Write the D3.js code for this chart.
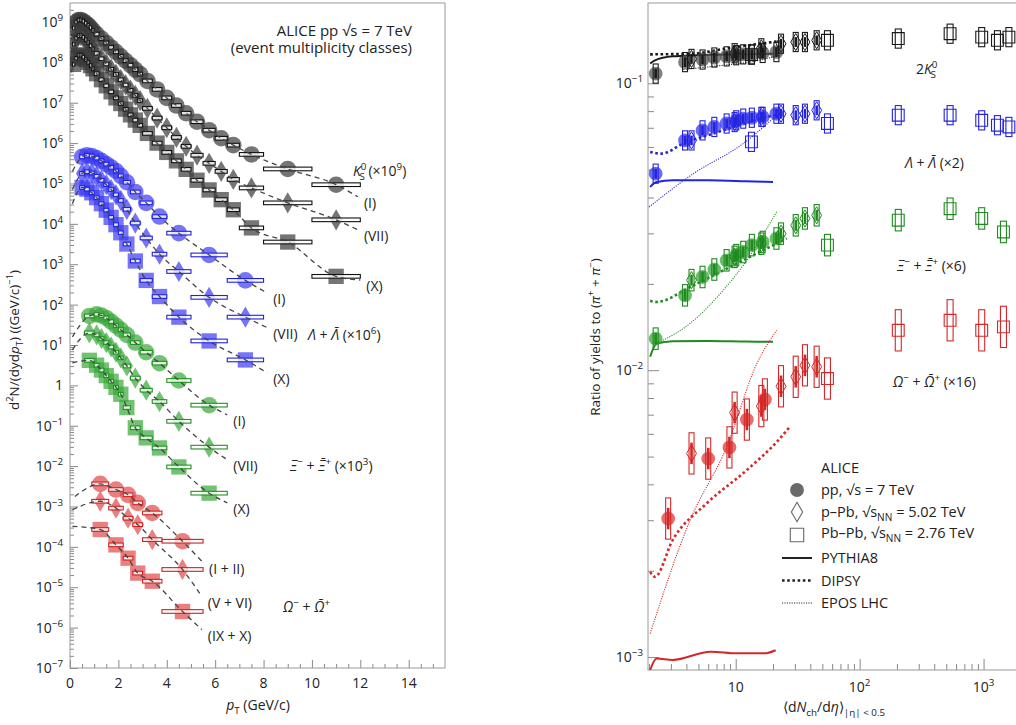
<!DOCTYPE html>
<html>
<head>
<meta charset="utf-8">
<script src="https://cdn.jsdelivr.net/npm/d3@7"></script>
<style>
  body { margin: 0; background: #fff; }
  text { font-family: "Open Sans", sans-serif; fill: #222; }
</style>
</head>
<body>
<svg id="chart" width="1016" height="725"></svg>
<script>
// ---------- left panel: pT spectra (yields stored as log10, already scaled) ----------
var k0Edges = [0.1,0.2,0.3,0.4,0.5,0.6,0.7,0.8,0.9,1.0,1.2,1.4,1.6,1.8,2.0,2.2,2.4,2.6,2.8,3.0,3.4,3.8,4.2,4.6,5.0,5.5,6.0,6.5,7.0,8.0,10.0,12.0];
var k0I   = [8.85,9.00,9.05,9.05,9.02,8.97,8.92,8.86,8.79,8.70,8.59,8.48,8.37,8.26,8.15,8.04,7.93,7.82,7.71,7.54,7.33,7.12,6.93,6.74,6.53,6.32,6.12,5.95,5.72,5.36,4.97];
var k0VII = [8.45,8.60,8.66,8.66,8.62,8.56,8.49,8.41,8.33,8.22,8.09,7.96,7.83,7.70,7.57,7.44,7.31,7.18,7.05,6.86,6.62,6.38,6.14,5.92,5.70,5.50,5.30,5.10,4.89,4.52,4.10];
var k0X   = [7.95,8.10,8.18,8.18,8.13,8.07,8.00,7.92,7.84,7.72,7.57,7.42,7.27,7.12,6.98,6.84,6.70,6.57,6.44,6.24,6.00,5.77,5.56,5.35,5.08,4.84,4.60,4.35,3.90,3.55,2.70];
var k0FitStart = [[0.05, 8.65], [0.05, 8.25], [0.05, 7.75]];
var k0FitEnd   = [[11.9, 4.67], [11.9, 3.85], [12.0, 2.61]];

var lamEdges = [0.4,0.6,0.8,1.0,1.2,1.4,1.6,1.8,2.0,2.2,2.5,2.9,3.4,4.0,5.0,6.5,8.0];
var lamI   = [5.66,5.70,5.68,5.63,5.56,5.48,5.40,5.31,5.19,5.03,4.79,4.52,4.18,3.77,3.23,2.60];
var lamVII = [5.25,5.29,5.26,5.18,5.08,4.97,4.85,4.72,4.58,4.36,4.02,3.65,3.25,2.82,2.18,1.69];
var lamX   = [4.90,4.86,4.77,4.65,4.50,4.34,4.16,3.98,3.78,3.50,3.08,2.60,2.20,1.69,1.10,0.63];
var lamFitStart = [[0.1, 5.30], [0.1, 4.85], [0.1, 4.50]];
var lamFitEnd   = [[8.15, 2.29], [8.15, 1.43], [8.15, 0.31]];

var xiEdges = [0.6,1.0,1.2,1.4,1.6,1.8,2.0,2.2,2.5,2.9,3.4,4.0,5.0,6.5];
var xiI   = [1.72,1.76,1.73,1.67,1.58,1.48,1.38,1.25,1.06,0.82,0.55,0.12,-0.49];
var xiVII = [1.30,1.25,1.16,1.06,0.95,0.82,0.68,0.48,0.18,-0.12,-0.40,-0.89,-1.53];
var xiX   = [0.62,0.50,0.38,0.24,0.10,-0.05,-0.22,-0.55,-1.05,-1.30,-1.55,-2.02,-2.67];
var xiFitStart = [[0.1, 1.20], [0.1, 0.88], [0.1, 0.56]];
var xiFitEnd   = [[6.5, -0.73], [6.5, -1.84], [6.5, -2.91]];

var omEdges = [0.9,1.6,2.2,2.6,3.0,3.8,5.5];
var omI   = [-2.44,-2.58,-2.71,-2.91,-3.16,-3.86];
var omVII = [-2.87,-3.04,-3.29,-3.45,-3.82,-4.56];
var omX   = [-3.57,-3.95,-4.28,-4.65,-4.85,-5.60];
var omFitStart = [[0.2, -2.75], [0.1, -3.08], [0.1, -3.49]];
var omFitEnd   = [[5.5, -4.39], [5.45, -5.23], [5.45, -6.05]];

var specSys = 0.11;   // relative systematic (box half height)

// ---------- right panel: ratios to pions (log10) vs <dNch/deta> ----------
var ppN   = [2.26,3.90,5.40,6.72,8.45,10.1,11.5,13.5,16.5,21.3];
var ppNOm = [2.85,6.0,8.9,12.3,17.2];
var ppbN  = [4.4,9.8,16.1,23.2,30.5,36.2,45];
var pbN7  = [13.4,55,205,537,966,1294,1601];
var pbN5  = [55,205,537,966,1447];

var k0PP   = [-0.966,-0.926,-0.917,-0.910,-0.906,-0.902,-0.899,-0.899,-0.894,-0.891];
var k0PPb  = [-0.915,-0.895,-0.878,-0.862,-0.856,-0.856,-0.850];
var k0PbPb = [-0.900,-0.850,-0.844,-0.827,-0.839,-0.850,-0.839];
var lamPP   = [-1.315,-1.199,-1.164,-1.152,-1.140,-1.129,-1.123,-1.120,-1.117,-1.106];
var lamPPb  = [-1.199,-1.135,-1.117,-1.106,-1.111,-1.106,-1.094];
var lamPbPb = [-1.204,-1.140,-1.111,-1.111,-1.129,-1.146,-1.152];
var xiPP   = [-1.890,-1.739,-1.675,-1.649,-1.617,-1.599,-1.588,-1.564,-1.553,-1.541];
var xiPPb  = [-1.686,-1.605,-1.559,-1.524,-1.495,-1.471,-1.460];
var xiPbPb = [-1.564,-1.477,-1.437,-1.471,-1.518];
var omPP   = [-2.517,-2.308,-2.269,-2.172,-2.102];
var omPPb  = [-2.290,-2.148,-2.125,-2.056,-2.023,-1.983,-1.988];
var omPbPb = [-2.029,-1.861,-1.826,-1.861,-1.849];

// models: PYTHIA8, DIPSY, EPOS LHC
var k0PyN = [2.04,2.23,3.1,5,10,20],           k0PyLg = [-0.931,-0.920,-0.906,-0.902,-0.899,-0.897];
var k0DiN = [2.04,4.4,8,14,22.7],              k0DiLg = [-0.899,-0.897,-0.880,-0.865,-0.853];
var k0EpN = [3.78,7.94,13,22.7],               k0EpLg = [-0.952,-0.937,-0.926,-0.902];
var lamPyN = [2.04,2.3,3.1,6,12,20],           lamPyLg = [-1.361,-1.344,-1.338,-1.338,-1.341,-1.344];
var lamDiN = [2.04,2.5,3.78,7.94,14,22.7],     lamDiLg = [-1.239,-1.245,-1.210,-1.164,-1.130,-1.106];
var lamEpN = [2.0,4.55,11.5,21.4],             lamEpLg = [-1.431,-1.315,-1.210,-1.111];
var xiPyN = [2.04,2.3,3.1,6,12,20],            xiPyLg = [-1.953,-1.907,-1.899,-1.898,-1.900,-1.901];
var xiDiN = [2.04,2.3,4.28,7.94,13.0,25.8],    xiDiLg = [-1.758,-1.762,-1.710,-1.652,-1.605,-1.541];
var xiEpN = [2.3,4.28,7.94,12.3,21.4],         xiEpLg = [-1.907,-1.837,-1.721,-1.617,-1.448];
var omPyN = [2.04,2.3,3.1,6.3,10.2,17,21],     omPyLg = [-3.045,-3.005,-3.010,-2.981,-2.987,-2.987,-2.976];
var omDiN = [2.04,2.23,3.1,5.84,12.3,22.1,27.4], omDiLg = [-2.703,-2.720,-2.592,-2.464,-2.348,-2.244,-2.197];
var omEpN = [2.04,4.28,8.46,14.8,21.4],        omEpLg = [-2.918,-2.523,-2.267,-1.977,-1.861];

var ratioSys = [0.08, 0.08, 0.09, 0.18];

// ---------- setup ----------
var svg = d3.select('#chart');
var pow10 = function (v) { return Math.pow(10, v); };

var xL = d3.scaleLinear().domain([0, 15.5]).range([70, 445]);
var yL = d3.scaleLog().domain([1e-7, pow10(9.47)]).range([668, 3]);
var xR = d3.scaleLog().domain([1.96, 2200]).range([648, 1026]);
var yR = d3.scaleLog().domain([pow10(-3.045), pow10(-0.72)]).range([670, 3]);

var defs = svg.append('defs');
defs.append('clipPath').attr('id', 'clipL').append('rect')
  .attr('x', 70).attr('y', 3).attr('width', 375).attr('height', 665);
defs.append('clipPath').attr('id', 'clipR').append('rect')
  .attr('x', 648).attr('y', 3).attr('width', 378).attr('height', 667);

// rich text helper: parts = [text, 'sup'|'sub'|'', italic, dx]
function rich(sel, parts, size) {
  var cur = 0;
  parts.forEach(function (p) {
    var t = sel.append('tspan').text(p[0]);
    var off = p[1] === 'sup' ? -0.42 * size : p[1] === 'sub' ? 0.3 * size : 0;
    if (off !== cur) { t.attr('dy', off - cur); cur = off; }
    if (p[1] === 'sup' || p[1] === 'sub') t.attr('font-size', size * 0.7);
    if (p[2]) t.attr('font-style', 'italic');
    if (p[3]) t.attr('dx', p[3]);
  });
  return sel;
}
function txt(x, y, size, anchor) {
  return svg.append('text').attr('x', x).attr('y', y)
    .attr('font-size', size).attr('text-anchor', anchor || 'start');
}
function expStr(k) { return String(k).replace('-', '\u2212'); }

// ---------- left panel axes ----------
var majL = d3.range(-7, 10).map(pow10);
var minL = [];
d3.range(-7, 10).forEach(function (d) { d3.range(2, 10).forEach(function (m) {
  var v = m * pow10(d); if (v < yL.domain()[1]) minL.push(v); }); });
var majXL = d3.range(0, 15, 2);
var minXL = d3.range(0, 15.5, 0.5).filter(function (v) { return v % 2 !== 0; });

function tickG(axis, tr) {
  var g = svg.append('g').attr('transform', tr).call(axis);
  g.select('.domain').remove();
  g.selectAll('line').attr('stroke', '#888');
  return g;
}
tickG(d3.axisRight(yL).tickValues(majL).tickSize(8).tickFormat(''), 'translate(70,0)');
tickG(d3.axisRight(yL).tickValues(minL).tickSize(4).tickFormat(''), 'translate(70,0)');
tickG(d3.axisTop(xL).tickValues(majXL).tickSize(8).tickFormat(''), 'translate(0,668)');
tickG(d3.axisTop(xL).tickValues(minXL).tickSize(4).tickFormat(''), 'translate(0,668)');

svg.append('rect').attr('x', 70).attr('y', 3).attr('width', 375).attr('height', 665)
  .attr('fill', 'none').attr('stroke', '#999').attr('stroke-width', 1);

d3.range(-7, 10).forEach(function (k) {
  var t = txt(63, yL(pow10(k)) + 5, 14, 'end');
  if (k === 0) t.text('1');
  else rich(t, [['10', ''], [expStr(k), 'sup']], 14);
});
majXL.forEach(function (v) { txt(xL(v), 688, 14, 'middle').text(v); });

rich(txt(258, 710, 14, 'middle'), [['p', '', true], ['T', 'sub'], [' (GeV/c)', '']], 14);
rich(svg.append('text').attr('font-size', 13.5).attr('text-anchor', 'middle')
  .attr('transform', 'translate(19,340) rotate(-90)'),
  [['d', ''], ['2', 'sup'], ['N/(dyd', '', false], ['p', '', true], ['T', 'sub'],
   [') ((GeV/c)', ''], ['\u22121', 'sup'], [')', '']], 13.5);

// ---------- left panel data ----------
var spectra = [
  { edges: k0Edges, sets: [k0I, k0VII, k0X], starts: k0FitStart, ends: k0FitEnd,
    fill: '#3a3a3a', box: '#111', tags: ['(I)', '(VII)', '(X)'] },
  { edges: lamEdges, sets: [lamI, lamVII, lamX], starts: lamFitStart, ends: lamFitEnd,
    fill: '#3a3af2', box: '#2020e0', tags: ['(I)', '(VII)', '(X)'] },
  { edges: xiEdges, sets: [xiI, xiVII, xiX], starts: xiFitStart, ends: xiFitEnd,
    fill: '#38a838', box: '#229022', tags: ['(I)', '(VII)', '(X)'] },
  { edges: omEdges, sets: [omI, omVII, omX], starts: omFitStart, ends: omFitEnd,
    fill: '#e04848', box: '#d02020', tags: ['(I + II)', '(V + VI)', '(IX + X)'] }
];
var shapesL = [
  d3.symbol().type(d3.symbolCircle).size(215),
  d3.symbol().type(d3.symbolDiamond).size(130),
  d3.symbol().type(d3.symbolSquare).size(235)
];

var gL = svg.append('g').attr('clip-path', 'url(#clipL)');
var fitLine = d3.line().curve(d3.curveMonotoneX)
  .x(function (d) { return xL(d[0]); }).y(function (d) { return yL(pow10(d[1])); });

spectra.forEach(function (sp) {
  var bins = d3.range(sp.edges.length - 1).map(function (i) {
    return { lo: sp.edges[i], hi: sp.edges[i + 1], c: (sp.edges[i] + sp.edges[i + 1]) / 2 };
  });
  sp.sets.forEach(function (vals, ci) {
    var pts = bins.map(function (b, i) { return { lo: b.lo, hi: b.hi, c: b.c, v: pow10(vals[i]) }; });
    var g = gL.append('g');
    g.selectAll('path.m').data(pts).enter().append('path')
      .attr('class', 'm')
      .attr('d', shapesL[ci])
      .attr('transform', function (d) { return 'translate(' + xL(d.c) + ',' + yL(d.v) + ')'; })
      .attr('fill', sp.fill).attr('fill-opacity', 0.7);
    g.selectAll('rect').data(pts).enter().append('rect')
      .attr('x', function (d) { return xL(d.lo); })
      .attr('width', function (d) { return xL(d.hi) - xL(d.lo); })
      .attr('y', function (d) { return yL(d.v * (1 + specSys)); })
      .attr('height', function (d) { return yL(d.v / (1 + specSys)) - yL(d.v * (1 + specSys)); })
      .attr('fill', '#fff').attr('fill-opacity', 0.8)
      .attr('stroke', sp.box).attr('stroke-width', 1.1);
    var line = [sp.starts[ci]].concat(bins.map(function (b, i) { return [b.c, vals[i]]; }), [sp.ends[ci]]);
    g.append('path').attr('d', fitLine(line))
      .attr('fill', 'none').attr('stroke', '#444').attr('stroke-width', 1.3)
      .attr('stroke-dasharray', '5,4');
    var e = sp.ends[ci];
    txt(xL(e[0]) + 6, yL(pow10(e[1])) + 11, 14).text(sp.tags[ci]);
  });
});

// left annotations
txt(412, 36, 15, 'end').text('ALICE pp \u221As = 7 TeV');
txt(412, 53, 15, 'end').text('(event multiplicity classes)');
rich(txt(353, 176, 14), [['K', '', true], ['0', 'sup'], ['S', 'sub', false, -7], [' (\u00d710', ''], ['9', 'sup'], [')', '']], 14);
rich(txt(308, 340, 14), [['\u039b', '', true], [' + ', ''], ['\u039b\u0304', '', true], [' (\u00d710', ''], ['6', 'sup'], [')', '']], 14);
rich(txt(290, 471, 14), [['\u039e', '', true], ['\u2212', 'sup'], [' + ', ''], ['\u039e\u0304', '', true], ['+', 'sup'], [' (\u00d710', ''], ['3', 'sup'], [')', '']], 14);
rich(txt(283, 612, 14), [['\u03a9', '', true], ['\u2212', 'sup'], [' + ', ''], ['\u03a9\u0304', '', true], ['+', 'sup']], 14);

// ---------- right panel axes ----------
var majYR = [1e-3, 1e-2, 1e-1];
var minYR = [];
[-4, -3, -2, -1].forEach(function (d) { d3.range(2, 10).forEach(function (m) {
  var v = m * pow10(d); if (v > yR.domain()[0] && v < yR.domain()[1]) minYR.push(v); }); });
var majXR = [10, 100, 1000];
var minXR = [];
[0, 1, 2, 3].forEach(function (d) { d3.range(2, 10).forEach(function (m) {
  var v = m * pow10(d); if (v > xR.domain()[0] && v < xR.domain()[1]) minXR.push(v); }); });

tickG(d3.axisRight(yR).tickValues(majYR).tickSize(11).tickFormat(''), 'translate(648,0)');
tickG(d3.axisRight(yR).tickValues(minYR).tickSize(6).tickFormat(''), 'translate(648,0)');
tickG(d3.axisTop(xR).tickValues(majXR).tickSize(11).tickFormat(''), 'translate(0,670)');
tickG(d3.axisTop(xR).tickValues(minXR).tickSize(6).tickFormat(''), 'translate(0,670)');
svg.append('rect').attr('x', 648).attr('y', 3).attr('width', 378).attr('height', 667)
  .attr('fill', 'none').attr('stroke', '#999').attr('stroke-width', 1);

[-3, -2, -1].forEach(function (k) {
  rich(txt(643, yR(pow10(k)) + 5, 14, 'end'), [['10', ''], [expStr(k), 'sup']], 14);
});
txt(xR(10), 692, 14, 'middle').text('10');
rich(txt(xR(100), 692, 14, 'middle'), [['10', ''], ['2', 'sup']], 14);
rich(txt(xR(1000), 692, 14, 'middle'), [['10', ''], ['3', 'sup']], 14);

rich(txt(834, 712, 14, 'middle'), [['\u27e8d', ''], ['N', '', true], ['ch', 'sub'], ['/d', ''], ['\u03b7', '', true], ['\u27e9', ''], ['|\u03b7| < 0.5', 'sub']], 14);
rich(svg.append('text').attr('font-size', 13.5).attr('text-anchor', 'middle')
  .attr('transform', 'translate(600,337) rotate(-90)'),
  [['Ratio of yields to (', ''], ['\u03c0', '', true], ['+', 'sup'], [' + ', ''], ['\u03c0', '', true], ['\u2212', 'sup'], [')', '']], 13.5);

// ---------- right panel data ----------
var ratios = [
  { pp: [ppN, k0PP], ppb: [ppbN, k0PPb], pb: [pbN7, k0PbPb],
    models: [[k0PyN, k0PyLg], [k0DiN, k0DiLg], [k0EpN, k0EpLg]], col: '#1a1a1a', fill: '#555' },
  { pp: [ppN, lamPP], ppb: [ppbN, lamPPb], pb: [pbN7, lamPbPb],
    models: [[lamPyN, lamPyLg], [lamDiN, lamDiLg], [lamEpN, lamEpLg]], col: '#2424e0', fill: '#3a3af0' },
  { pp: [ppN, xiPP], ppb: [ppbN, xiPPb], pb: [pbN5, xiPbPb],
    models: [[xiPyN, xiPyLg], [xiDiN, xiDiLg], [xiEpN, xiEpLg]], col: '#1f8a1f', fill: '#36a836' },
  { pp: [ppNOm, omPP], ppb: [ppbN, omPPb], pb: [pbN5, omPbPb],
    models: [[omPyN, omPyLg], [omDiN, omDiLg], [omEpN, omEpLg]], col: '#d42828', fill: '#e03a3a' }
];
var modelStyles = [
  { w: 2, dash: null },
  { w: 2.6, dash: '2.6,2.6' },
  { w: 1.1, dash: '1.1,1.3' }
];
var gR = svg.append('g').attr('clip-path', 'url(#clipR)');
var modelLine = d3.line().curve(d3.curveMonotoneX)
  .x(function (d) { return xR(d[0]); }).y(function (d) { return yR(pow10(d[1])); });
var circR = d3.symbol().type(d3.symbolCircle).size(150);
var diaR = d3.symbol().type(d3.symbolDiamond).size(85);
var sqR = d3.symbol().type(d3.symbolSquare).size(140);

function zip(arr) { return arr[0].map(function (n, i) { return { n: n, v: pow10(arr[1][i]) }; }); }
function sysBoxes(g, pts, s, col, w) {
  g.selectAll(null).data(pts).enter().append('rect')
    .attr('x', function (d) { return xR(d.n) - w / 2; }).attr('width', w)
    .attr('y', function (d) { return yR(d.v * (1 + s)); })
    .attr('height', function (d) { return yR(d.v / (1 + s)) - yR(d.v * (1 + s)); })
    .attr('fill', 'none').attr('stroke', col).attr('stroke-width', 1.1);
  g.selectAll(null).data(pts).enter().append('line')
    .attr('x1', function (d) { return xR(d.n); }).attr('x2', function (d) { return xR(d.n); })
    .attr('y1', function (d) { return yR(d.v * (1 + s * 0.5)); })
    .attr('y2', function (d) { return yR(d.v / (1 + s * 0.5)); })
    .attr('stroke', col).attr('stroke-width', 2.6);
}

ratios.forEach(function (sp, si) {
  var g = gR.append('g');
  var s = ratioSys[si];
  sp.models.forEach(function (m, mi) {
    var pts = m[0].map(function (n, i) { return [n, m[1][i]]; });
    g.append('path').attr('d', modelLine(pts)).attr('fill', 'none')
      .attr('stroke', sp.col).attr('stroke-width', modelStyles[mi].w)
      .attr('stroke-dasharray', modelStyles[mi].dash);
  });
  var pp = zip(sp.pp), ppb = zip(sp.ppb), pb = zip(sp.pb);
  g.selectAll(null).data(pp).enter().append('path').attr('d', circR)
    .attr('transform', function (d) { return 'translate(' + xR(d.n) + ',' + yR(d.v) + ')'; })
    .attr('fill', sp.fill).attr('fill-opacity', 0.75);
  sysBoxes(g, pp, s, sp.col, 5);
  g.selectAll(null).data(ppb).enter().append('path').attr('d', diaR)
    .attr('transform', function (d) { return 'translate(' + xR(d.n) + ',' + yR(d.v) + ')'; })
    .attr('fill', 'none').attr('stroke', sp.col).attr('stroke-width', 1);
  sysBoxes(g, ppb, s, sp.col, 5);
  g.selectAll(null).data(pb).enter().append('path').attr('d', sqR)
    .attr('transform', function (d) { return 'translate(' + xR(d.n) + ',' + yR(d.v) + ')'; })
    .attr('fill', 'none').attr('stroke', sp.col).attr('stroke-width', 1.1);
  g.selectAll(null).data(pb).enter().append('rect')
    .attr('x', function (d) { return xR(d.n) - 3; }).attr('width', 6)
    .attr('y', function (d) { return yR(d.v * (1 + s)); })
    .attr('height', function (d) { return yR(d.v / (1 + s)) - yR(d.v * (1 + s)); })
    .attr('fill', 'none').attr('stroke', sp.col).attr('stroke-width', 1.1);
});

// right annotations
rich(txt(916, 74, 14), [['2', ''], ['K', '', true], ['0', 'sup'], ['S', 'sub', false, -7]], 14);
rich(txt(905, 168, 14), [['\u039b', '', true], [' + ', ''], ['\u039b\u0304', '', true], [' (\u00d72)', '']], 14);
rich(txt(897, 271, 14), [['\u039e', '', true], ['\u2212', 'sup'], [' + ', ''], ['\u039e\u0304', '', true], ['+', 'sup'], [' (\u00d76)', '']], 14);
rich(txt(893, 387, 14), [['\u03a9', '', true], ['\u2212', 'sup'], [' + ', ''], ['\u03a9\u0304', '', true], ['+', 'sup'], [' (\u00d716)', '']], 14);

// legend
var lgX = 797, tX = 821;
txt(tX, 473, 14.5).text('ALICE');
svg.append('path').attr('d', d3.symbol().type(d3.symbolCircle).size(150))
  .attr('transform', 'translate(' + lgX + ',490)').attr('fill', '#6a6a6a');
rich(txt(tX, 495, 14.5), [['pp, \u221As = 7 TeV', '']], 14.5);
svg.append('path').attr('d', d3.symbol().type(d3.symbolDiamond).size(110))
  .attr('transform', 'translate(' + lgX + ',512)').attr('fill', 'none').attr('stroke', '#666').attr('stroke-width', 1.1);
rich(txt(tX, 517, 14.5), [['p\u2013Pb, \u221As', ''], ['NN', 'sub'], [' = 5.02 TeV', '']], 14.5);
svg.append('path').attr('d', d3.symbol().type(d3.symbolSquare).size(180))
  .attr('transform', 'translate(' + lgX + ',535)').attr('fill', 'none').attr('stroke', '#666').attr('stroke-width', 1.1);
rich(txt(tX, 538, 14.5), [['Pb\u2013Pb, \u221As', ''], ['NN', 'sub'], [' = 2.76 TeV', '']], 14.5);
var legModels = ['PYTHIA8', 'DIPSY', 'EPOS LHC'];
legModels.forEach(function (name, i) {
  var y = 558 + i * 22.5;
  svg.append('line').attr('x1', 782).attr('x2', 812).attr('y1', y).attr('y2', y)
    .attr('stroke', '#222').attr('stroke-width', modelStyles[i].w)
    .attr('stroke-dasharray', modelStyles[i].dash);
  txt(tX, y + 5, 14.5).text(name);
});
</script>
</body>
</html>
